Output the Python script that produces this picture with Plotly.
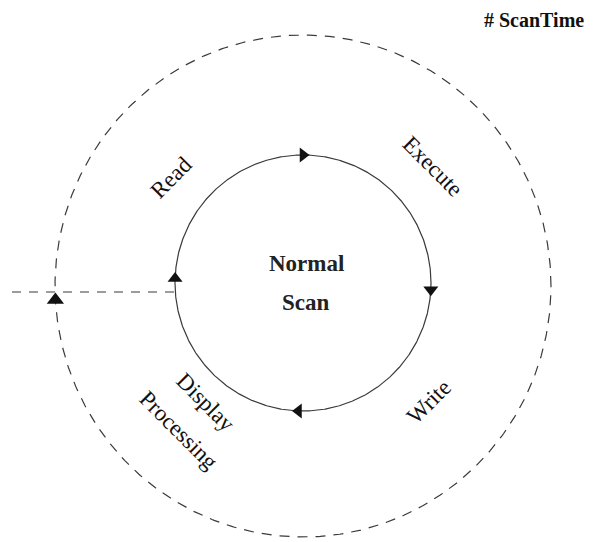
import numpy as np
import plotly.graph_objects as go

# ---- diagram content ----
center_labels = ["Normal", "Scan"]
stage_labels = ["Read", "Execute", "Write", "Display", "Processing"]
stage_angles = [-45, 45, -45, 45, 45]          # text rotation (deg, clockwise)
corner_label = "# ScanTime"
inner_arrow_dirs = ["triangle-right", "triangle-down", "triangle-left", "triangle-up"]
inner_arrow_pos_deg = [90, -3, -92, 178]       # polar angle on inner circle
outer_arrow_dir = "triangle-up"

# ---- geometry (pixel space; page body has an 8px margin) ----
W, H = 593, 542
PAD = 8
cx, cy = 303, 283
r_in = 128
ocx, ocy, orx, ory = 303, 286, 248, 251

fig = go.Figure()

t = np.linspace(0, 2 * np.pi, 721)
fig.add_trace(go.Scatter(x=cx + r_in * np.cos(t), y=cy - r_in * np.sin(t), mode="lines",
                         line=dict(color="#3a3a3a", width=1.2), hoverinfo="skip"))
fig.add_trace(go.Scatter(x=ocx + orx * np.cos(t), y=ocy - ory * np.sin(t), mode="lines",
                         line=dict(color="#3a3a3a", width=1.2, dash="10px,8px"), hoverinfo="skip"))
ly = 292
x_end = cx - np.sqrt(r_in**2 - (ly - cy) ** 2)
fig.add_trace(go.Scatter(x=[12, x_end], y=[ly, ly], mode="lines",
                         line=dict(color="#3a3a3a", width=1.2, dash="9px,8px"), hoverinfo="skip"))

a = np.radians(inner_arrow_pos_deg)
fig.add_trace(go.Scatter(x=cx + r_in * np.cos(a), y=cy - r_in * np.sin(a), mode="markers",
                         marker=dict(symbol=inner_arrow_dirs, size=13, color="#111"),
                         hoverinfo="skip"))
ya = 300
xa = ocx - orx * np.sqrt(1 - ((ya - ocy) / ory) ** 2)
fig.add_trace(go.Scatter(x=[xa], y=[ya], mode="markers",
                         marker=dict(symbol=outer_arrow_dir, size=15, color="#111"),
                         hoverinfo="skip"))

serif = "Liberation Serif"
for txt, y in zip(center_labels, [263, 302]):
    fig.add_annotation(x=306, y=y, text="<b>%s</b>" % txt, showarrow=False,
                       font=dict(family=serif, size=23, color="#222"))

stage_pos = [(171, 177), (433, 166), (428, 402), (206, 402), (179, 430)]
for txt, ang, (x, y) in zip(stage_labels, stage_angles, stage_pos):
    fig.add_annotation(x=x, y=y, text=txt, textangle=ang, showarrow=False,
                       font=dict(family=serif, size=23, color="#111"))

fig.add_annotation(x=586, y=20, text="<b>%s</b>" % corner_label, showarrow=False,
                   xanchor="right", font=dict(family=serif, size=20, color="#111"))

fig.update_layout(width=W - PAD, height=H - PAD, margin=dict(l=0, r=0, t=0, b=0),
                  paper_bgcolor="white", plot_bgcolor="white", showlegend=False)
fig.update_xaxes(range=[PAD, W], visible=False, fixedrange=True)
fig.update_yaxes(range=[H, PAD], visible=False, fixedrange=True)
fig.write_html("out.html")
